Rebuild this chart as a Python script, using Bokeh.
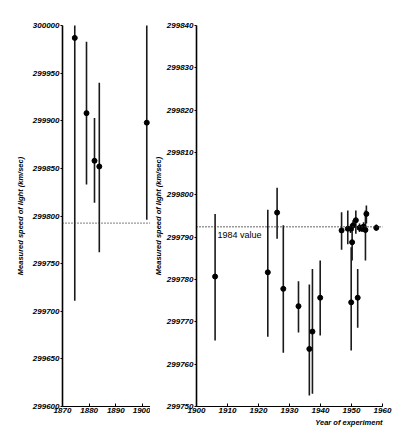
from bokeh.plotting import figure
from bokeh.layouts import row
from bokeh.models import FixedTicker, BasicTickFormatter, Span, Label, ColumnDataSource, Title
from bokeh.embed import file_html
from bokeh.resources import INLINE

# ---- data ----
years_l = [1874.6, 1879.0, 1882.0, 1883.8, 1901.6]
vals_l = [299987, 299908, 299858, 299852, 299898]
low_l = [299711, 299833, 299814, 299762, 299796]
high_l = [300263, 299983, 299903, 299940, 300010]

years_r = [1906.0, 1923.0, 1926.0, 1928.0, 1932.9, 1936.4, 1937.4, 1939.9,
           1946.8, 1948.8, 1949.7, 1949.9, 1950.2, 1950.5, 1951.4, 1952.0,
           1952.6, 1953.4, 1953.9, 1954.5, 1954.8, 1958.0]
vals_r = [299780.7, 299781.7, 299795.8, 299777.8, 299773.7, 299763.6, 299767.7, 299775.7,
          299791.6, 299792.0, 299792.0, 299774.6, 299788.8, 299792.8, 299794.0, 299775.7,
          299792.2, 299792.0, 299792.5, 299791.7, 299795.5, 299792.2]
low_r = [299765.6, 299766.5, 299789.6, 299762.7, 299767.5, 299752.6, 299753.0, 299766.8,
         299787.0, 299788.3, 299791.0, 299763.2, 299784.5, 299791.5, 299790.8, 299768.6,
         299791.2, 299791.3, 299791.5, 299784.5, 299793.2, 299791.5]
high_r = [299795.5, 299796.5, 299801.7, 299792.8, 299779.6, 299778.8, 299782.5, 299784.5,
          299795.9, 299796.3, 299793.0, 299787.6, 299792.0, 299794.0, 299796.3, 299782.5,
          299793.2, 299792.7, 299793.5, 299796.3, 299797.5, 299793.0]

ref_1984 = 299792.458
xticks_l = [1870, 1880, 1890, 1900]
yticks_l = [299600, 299650, 299700, 299750, 299800, 299850, 299900, 299950, 300000]
xticks_r = [1900, 1910, 1920, 1930, 1940, 1950, 1960]
yticks_r = [299750, 299760, 299770, 299780, 299790, 299800, 299810, 299820, 299830, 299840]

FONT = "Liberation Sans"
YLABEL = "Measured speed of light (km/sec)"


def style(p, xt, yt, label_standoff):
    p.xaxis.ticker = FixedTicker(ticks=xt)
    p.yaxis.ticker = FixedTicker(ticks=yt)
    p.yaxis.formatter = BasicTickFormatter(use_scientific=False)
    p.xgrid.visible = False
    p.ygrid.visible = False
    p.outline_line_color = None
    p.background_fill_color = "white"
    p.border_fill_color = "white"
    for ax in (p.xaxis[0], p.yaxis[0]):
        ax.major_label_text_font = FONT
        ax.major_label_text_font_style = "bold italic"
        ax.major_label_text_font_size = "8px"
        ax.major_label_text_color = "black"
        ax.minor_tick_line_color = None
        ax.axis_line_color = "black"
        ax.major_tick_line_color = "black"
        ax.major_label_standoff = 1
    p.yaxis.axis_line_width = 1.6
    p.yaxis.major_tick_in = 0
    p.yaxis.major_tick_out = 2
    p.xaxis.major_tick_in = 3
    p.xaxis.major_tick_out = 0
    p.yaxis.axis_label = YLABEL
    p.yaxis.axis_label_text_font = FONT
    p.yaxis.axis_label_text_font_style = "bold italic"
    p.yaxis.axis_label_text_font_size = "7.5px"
    p.yaxis.axis_label_text_color = "black"
    p.yaxis.axis_label_standoff = label_standoff


def draw(p, years, vals, lows, highs):
    src = ColumnDataSource(dict(x=years, y=vals, lo=lows, hi=highs))
    p.segment(x0="x", y0="lo", x1="x", y1="hi", source=src, line_color="#1a1a1a", line_width=1.6)
    p.scatter(x="x", y="y", source=src, size=5, fill_color="black", line_color="black")


H = 440
left = figure(width=150, height=H, x_range=(1870, 1903), y_range=(299600, 300000),
              output_backend="svg", toolbar_location=None,
              min_border_left=62, min_border_right=0, min_border_top=25, min_border_bottom=34)
style(left, xticks_l, yticks_l, 5)
draw(left, years_l, vals_l, low_l, high_l)
left.add_layout(Span(location=ref_1984, dimension="width", line_color="#333333",
                     line_dash="1 2", line_width=1.3))

right = figure(width=262, height=H, x_range=(1900, 1960), y_range=(299750, 299840),
               output_backend="svg", toolbar_location=None,
               min_border_left=44, min_border_right=30, min_border_top=25, min_border_bottom=34)
style(right, xticks_r, yticks_r, 1)
draw(right, years_r, vals_r, low_r, high_r)
right.line(x=[1900, 1962], y=[ref_1984, ref_1984], line_color="#333333",
           line_dash="1 2", line_width=1.3)
right.add_layout(Label(x=1906.8, y=ref_1984, y_offset=-3, text="1984 value",
                       text_font=FONT, text_font_size="9px", text_baseline="top",
                       text_align="left", text_color="black"))
right.add_layout(Title(text="Year of experiment", align="right", text_font=FONT,
                       text_font_style="bold italic", text_font_size="7.5px",
                       text_color="black", standoff=0), "below")

layout = row(left, right, spacing=0)
open("out.html", "w").write(file_html(layout, INLINE))
